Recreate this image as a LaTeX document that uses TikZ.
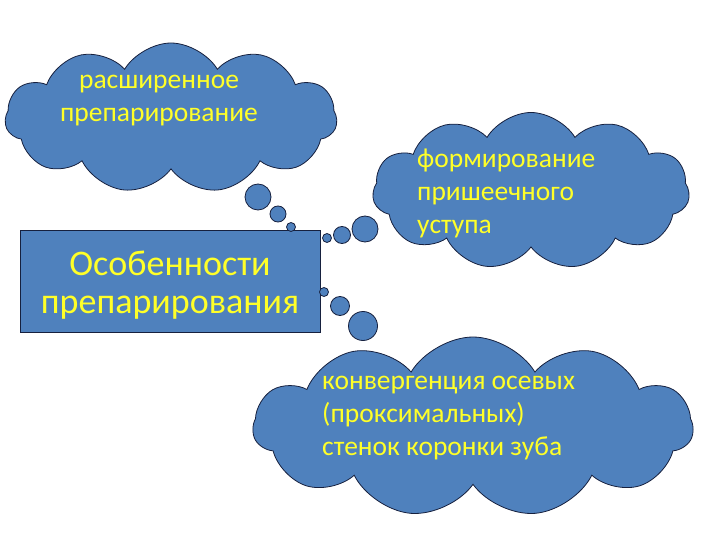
\documentclass[tikz,border=0pt]{standalone}
\usepackage{fontspec}
\setmainfont{Carlito}
\usetikzlibrary{shapes.symbols}
\definecolor{cloudfill}{RGB}{79,129,189}
\definecolor{cloudline}{RGB}{22,32,62}
\definecolor{labelyellow}{RGB}{255,255,40}
\tikzset{
  cloudbox/.style={cloud, cloud puffs=11, cloud puff arc=118, cloud ignores aspect, draw=cloudline, fill=cloudfill, line width=0.8pt, inner sep=0pt},
  bubble/.style={draw=cloudline, fill=cloudfill, line width=0.8pt},
  cloudtext/.style={text=labelyellow, font=\fontsize{27.5}{33}\selectfont, inner sep=0pt},
  titlebox/.style={rectangle, draw=cloudline, fill=cloudfill, line width=0.8pt, text=labelyellow, font=\fontsize{36}{38}\selectfont, align=center, inner sep=0pt},
}
\begin{document}
\begin{tikzpicture}[x=1pt,y=1pt,yscale=-1,xscale=1]
    \path[use as bounding box] (0,0) rectangle (720,540);

    %Shape: Cloud [top left]
    \node[cloudbox, minimum width=332pt, minimum height=150pt] (cloudWide) at (171,118) {};
    %Shape: Cloud [right]
    \node[cloudbox, minimum width=317pt, minimum height=157pt] (cloudLedge) at (531,191) {};
    %Shape: Cloud [bottom]
    \node[cloudbox, minimum width=440pt, minimum height=180pt] (cloudWalls) at (473,427) {};

    %Shape: Rectangle
    \node[titlebox, minimum width=300pt, minimum height=102pt] (features) at (170,281) {};

    %Shape: Circle [bubbles of top left cloud]
    \draw[bubble] (258,197) circle (13);
    \draw[bubble] (278,214) circle (8);
    \draw[bubble] (291,227) circle (4.5);
    %Shape: Circle [bubbles of right cloud]
    \draw[bubble] (365,229) circle (13);
    \draw[bubble] (342,235) circle (8.5);
    \draw[bubble] (327,238) circle (4.5);
    %Shape: Circle [bubbles of bottom cloud]
    \draw[bubble] (324,292) circle (4.5);
    \draw[bubble] (340,306) circle (9.5);
    \draw[bubble] (363,326) circle (14.5);

    % Text Node
    \node[titlebox, draw=none, fill=none] (featuresText) at (170,285) {Особенности\\препарирования};
    % Text Node
    \node[cloudtext, align=center] (wideText) at (159,101) {расширенное\\препарирование};
    % Text Node
    \node[cloudtext, align=left, anchor=west] (ledgeText) at (417,193) {формирование\\пришеечного\\уступа};
    % Text Node
    \node[cloudtext, align=left, anchor=west] (wallsText) at (322,418) {конвергенция осевых\\(проксимальных)\\стенок коронки зуба};

\end{tikzpicture}
\end{document}
